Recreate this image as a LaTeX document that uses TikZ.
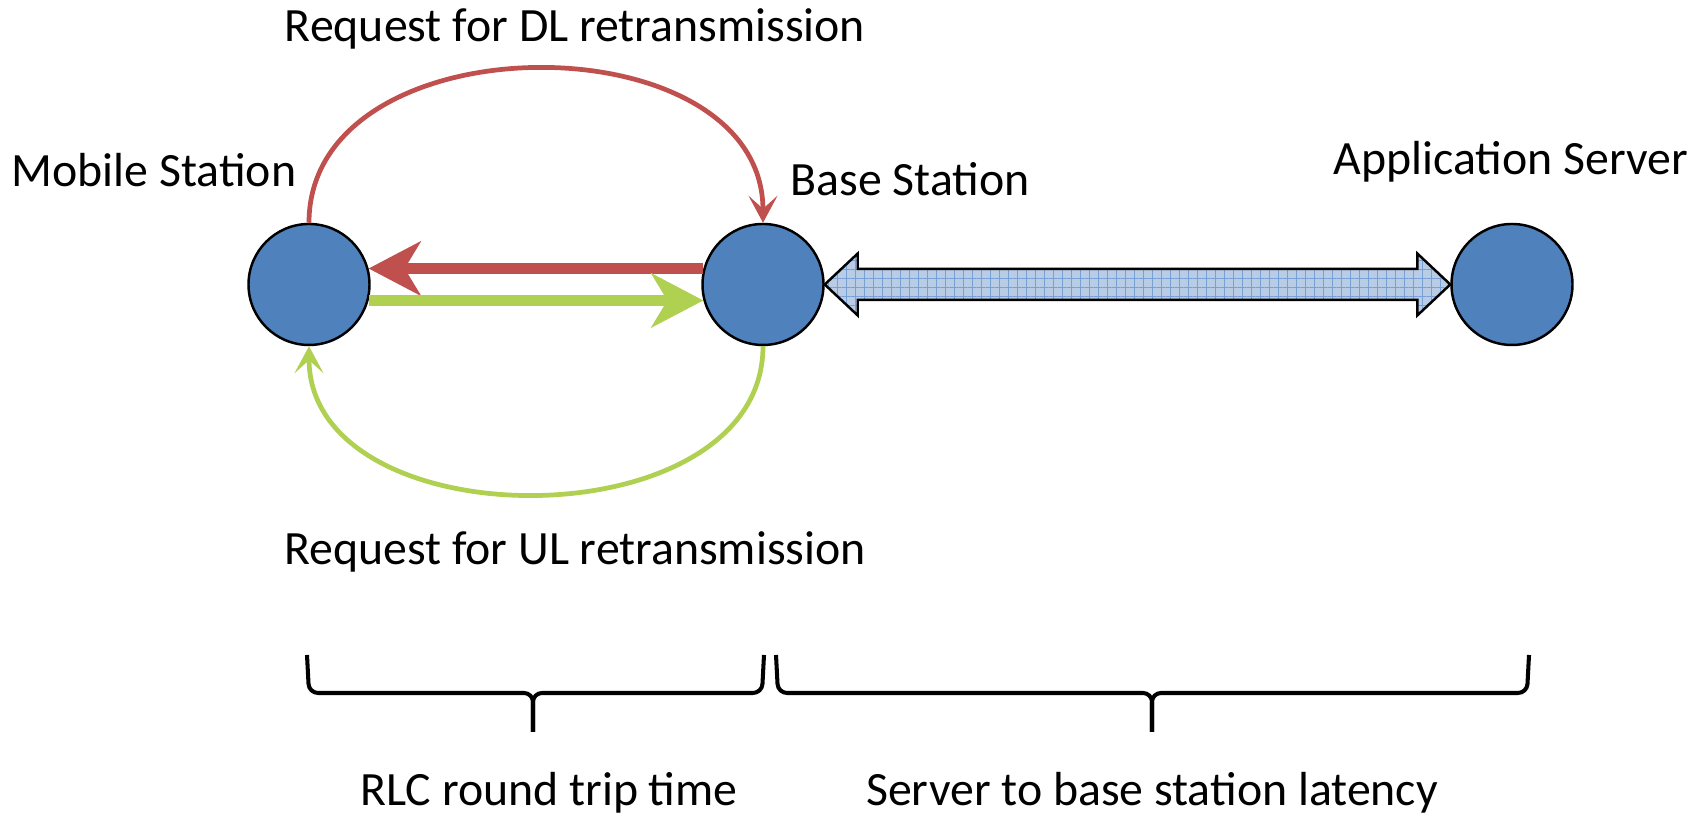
\documentclass[tikz,border=0pt]{standalone}
\usepackage{fontspec}
\setmainfont{Carlito}
\usetikzlibrary{arrows.meta, calc, patterns.meta}

\definecolor{stationblue}{RGB}{79,129,189}
\definecolor{dlred}{RGB}{192,80,77}
\definecolor{ulgreen}{RGB}{176,208,82}
\definecolor{hatchblue}{RGB}{184,204,230}
\definecolor{gridblue}{RGB}{120,160,212}

\begin{document}
\begin{tikzpicture}[
        station/.style={circle, draw=black, line width=0.7pt, fill=stationblue,
                minimum size=1.21cm, inner sep=0pt},
        nametext/.style={font=\fontsize{13.6}{16}\selectfont, inner sep=0pt, anchor=base},
        thick link/.style={line width=3pt, -{Stealth[length=5.2mm, width=5.4mm, inset=1.6mm]}},
        thin link/.style={line width=1.35pt, -{Stealth[length=2.7mm, width=2.9mm, inset=1.3mm]}},
        brace line/.style={line width=1.15pt, rounded corners=0.09cm}
    ]
        \useasboundingbox (0,0) rectangle (17,8.18);

        \pgfmathsetmacro{\headlen}{0.33}
        \pgfmathsetmacro{\headhalf}{0.31}
        \pgfmathsetmacro{\shafthalf}{0.155}

        \node[station] (ms) at (3.09,5.335) {};
        \node[station] (bs) at (7.63,5.335) {};
        \node[station] (as) at (15.12,5.335) {};

        \node[nametext] (mstext) at (1.54,6.31) {Mobile Station};
        \node[nametext] (bstext) at (9.10,6.22) {Base Station};
        \node[nametext] (astext) at (15.11,6.43) {Application Server};
        \node[nametext] (dltext) at (5.75,7.76) {Request for DL retransmission};
        \node[nametext] (ultext) at (5.75,2.53) {Request for UL retransmission};
        \node[nametext] (rlctext) at (5.49,0.12) {RLC round trip time};
        \node[nametext] (lattext) at (11.52,0.12) {Server to base station latency};

        % radio link, both directions
        \draw[thick link, dlred] (bs.165) -- (ms.15);
        \draw[thick link, ulgreen] (ms.-15) -- (bs.195);
        \draw[thin link, dlred] (ms.north) .. controls +(0,2.05) and +(0,2.05) .. (bs.north);
        \draw[thin link, ulgreen] (bs.south) .. controls +(0,-1.97) and +(0,-1.97) .. (ms.south);

        % backhaul
        \path[preaction={fill=hatchblue},
            preaction={pattern={Hatch[angle=0, distance=0.09cm, line width=0.25pt]}, pattern color=gridblue},
            draw=black, line width=0.7pt, line join=miter]
        (bs.east) -- ($(bs.east)+(\headlen,\headhalf)$) -- ($(bs.east)+(\headlen,\shafthalf)$)
        -- ($(as.west)+(-\headlen,\shafthalf)$) -- ($(as.west)+(-\headlen,\headhalf)$)
        -- (as.west) -- ($(as.west)+(-\headlen,-\headhalf)$) -- ($(as.west)+(-\headlen,-\shafthalf)$)
        -- ($(bs.east)+(\headlen,-\shafthalf)$) -- ($(bs.east)+(\headlen,-\headhalf)$) -- cycle;

        \foreach \bl/\bm/\br in {3.07/5.33/7.64, 7.76/11.52/15.29} {
                \draw[brace line] (\bl,1.63) -- (\bl+0.02,1.25) -- (\bm,1.25) -- (\bm,0.86);
                \draw[brace line] (\br,1.63) -- (\br-0.02,1.25) -- (\bm,1.25) -- (\bm,0.86);
            }
    \end{tikzpicture}
\end{document}
